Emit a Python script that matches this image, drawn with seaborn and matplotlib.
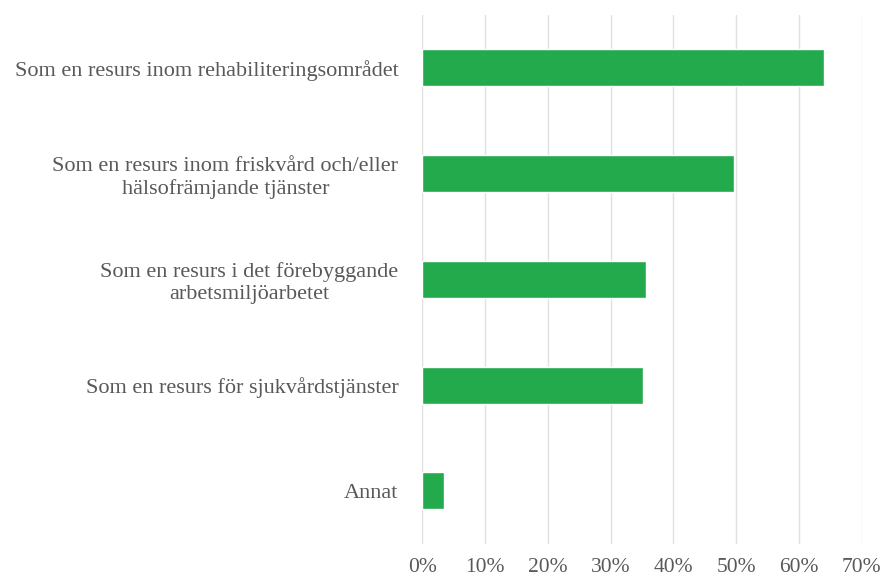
import pandas as pd
import seaborn as sns
import matplotlib.pyplot as plt
from matplotlib.ticker import PercentFormatter

# survey answers, share of respondents (%)
categories = [
    "Som en resurs inom rehabiliteringsområdet",
    "Som en resurs inom friskvård och/eller\nhälsofrämjande tjänster",
    "Som en resurs i det förebyggande\narbetsmiljöarbetet",
    "Som en resurs för sjukvårdstjänster",
    "Annat",
]
shares = [64.0, 49.6, 35.7, 35.2, 3.5]
xticks = [0, 10, 20, 30, 40, 50, 60, 70]

df = pd.DataFrame({"category": categories, "share": shares})

sns.set_style("white")
plt.rcParams["font.family"] = ["Liberation Serif", "DejaVu Serif"]

fig = plt.figure(figsize=(8.83, 5.81), dpi=100)
ax = fig.add_axes([0.478, 0.064, 0.498, 0.910])

sns.barplot(data=df, x="share", y="category", orient="h",
            color="#22AA4C", saturation=1, width=0.35, ax=ax)

ax.set_xlim(0, 70)
ax.set_xticks(xticks)
ax.xaxis.set_major_formatter(PercentFormatter(decimals=0))
ax.grid(axis="x", color="#E0E0E0", linewidth=1.0)
ax.set_axisbelow(True)
sns.despine(left=True, bottom=True)
ax.set_xlabel("")
ax.set_ylabel("")
ax.tick_params(axis="x", length=0, pad=10, labelsize=15.5, labelcolor="#595959")
ax.tick_params(axis="y", length=0, pad=17, labelsize=16, labelcolor="#595959")
for lbl in ax.get_yticklabels():
    lbl.set_multialignment("center")
    lbl.set_linespacing(1.2)

fig.savefig("out.png", dpi=100)
